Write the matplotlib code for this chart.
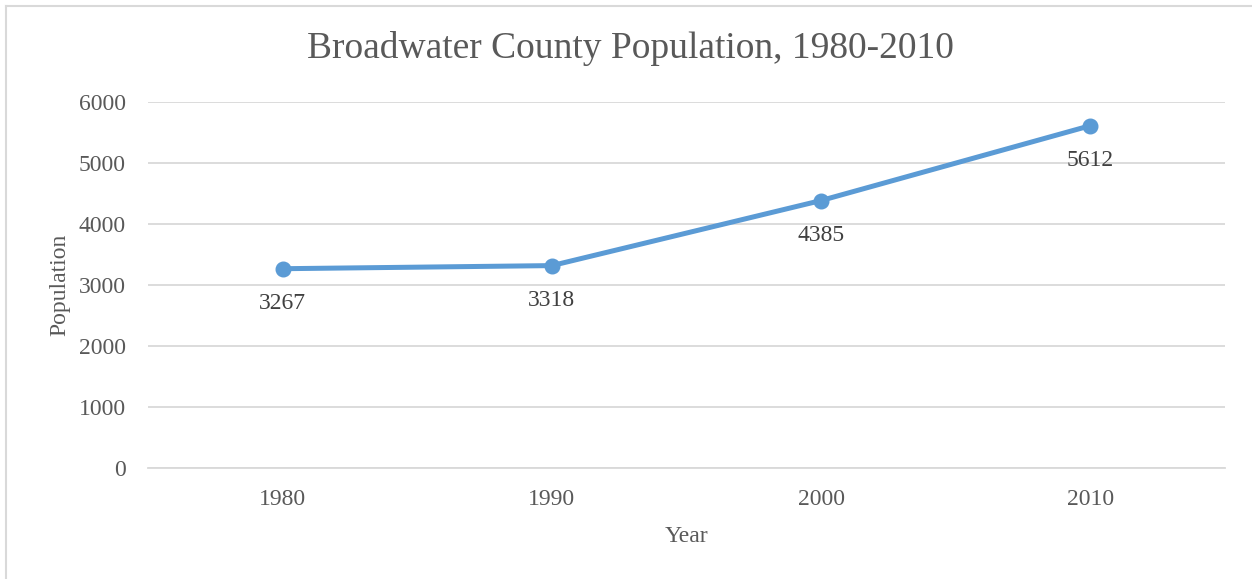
import matplotlib
matplotlib.use("Agg")
import matplotlib.pyplot as plt
from matplotlib.lines import Line2D

# Broadwater County census counts
years = ["1980", "1990", "2000", "2010"]
population = [3267, 3318, 4385, 5612]
y_ticks = [0, 1000, 2000, 3000, 4000, 5000, 6000]

LINE = "#5b9bd5"
GRID = "#d9d9d9"
TXT = "#595959"

plt.rcParams["font.family"] = ["Liberation Serif", "DejaVu Serif"]

W, H = 1252, 579
fig = plt.figure(figsize=(W / 100, H / 100), dpi=100)
fig.patch.set_facecolor("white")

# chart frame: only the left and top edges show in the crop
fx, fy = 5.5 / W, 1 - 5.5 / H
fig.add_artist(Line2D([fx, fx], [0, fy], transform=fig.transFigure,
                      color=GRID, linewidth=1.5))
fig.add_artist(Line2D([fx, 1], [fy, fy], transform=fig.transFigure,
                      color=GRID, linewidth=1.5))

ax = fig.add_axes([148 / W, 1 - 468 / H, (1225 - 148) / W, (468 - 102) / H])
x = list(range(len(years)))
ax.plot(x, population, color=LINE, linewidth=3.6, marker="o",
        markersize=10.5, solid_capstyle="round", zorder=3)
for i, v in zip(x, population):
    ax.annotate(f"{v}", (i, v), textcoords="offset points", xytext=(0, -25),
                ha="center", va="center", fontsize=17, color="#404040")

ax.set_xlim(-0.5, len(years) - 0.5)
ax.set_ylim(0, 6000)
ax.set_xticks(x)
ax.set_xticklabels(years)
ax.set_yticks(y_ticks)
ax.tick_params(length=0, labelsize=17, labelcolor=TXT)
ax.tick_params(axis="x", pad=15)
ax.tick_params(axis="y", pad=16)
ax.grid(axis="y", color=GRID, linewidth=1.3)
ax.set_axisbelow(True)
for s in ("top", "right", "left"):
    ax.spines[s].set_visible(False)
ax.spines["bottom"].set_color(GRID)
ax.spines["bottom"].set_linewidth(1.3)

ax.set_xlabel("Year", fontsize=17, color=TXT, labelpad=12)
ax.set_ylabel("Population", fontsize=17, color=TXT, labelpad=6)

fig.text(630 / W, 1 - 48 / H, "Broadwater County Population, 1980-2010",
         ha="center", va="center", fontsize=27, color=TXT)

fig.savefig("out.png", dpi=100)
